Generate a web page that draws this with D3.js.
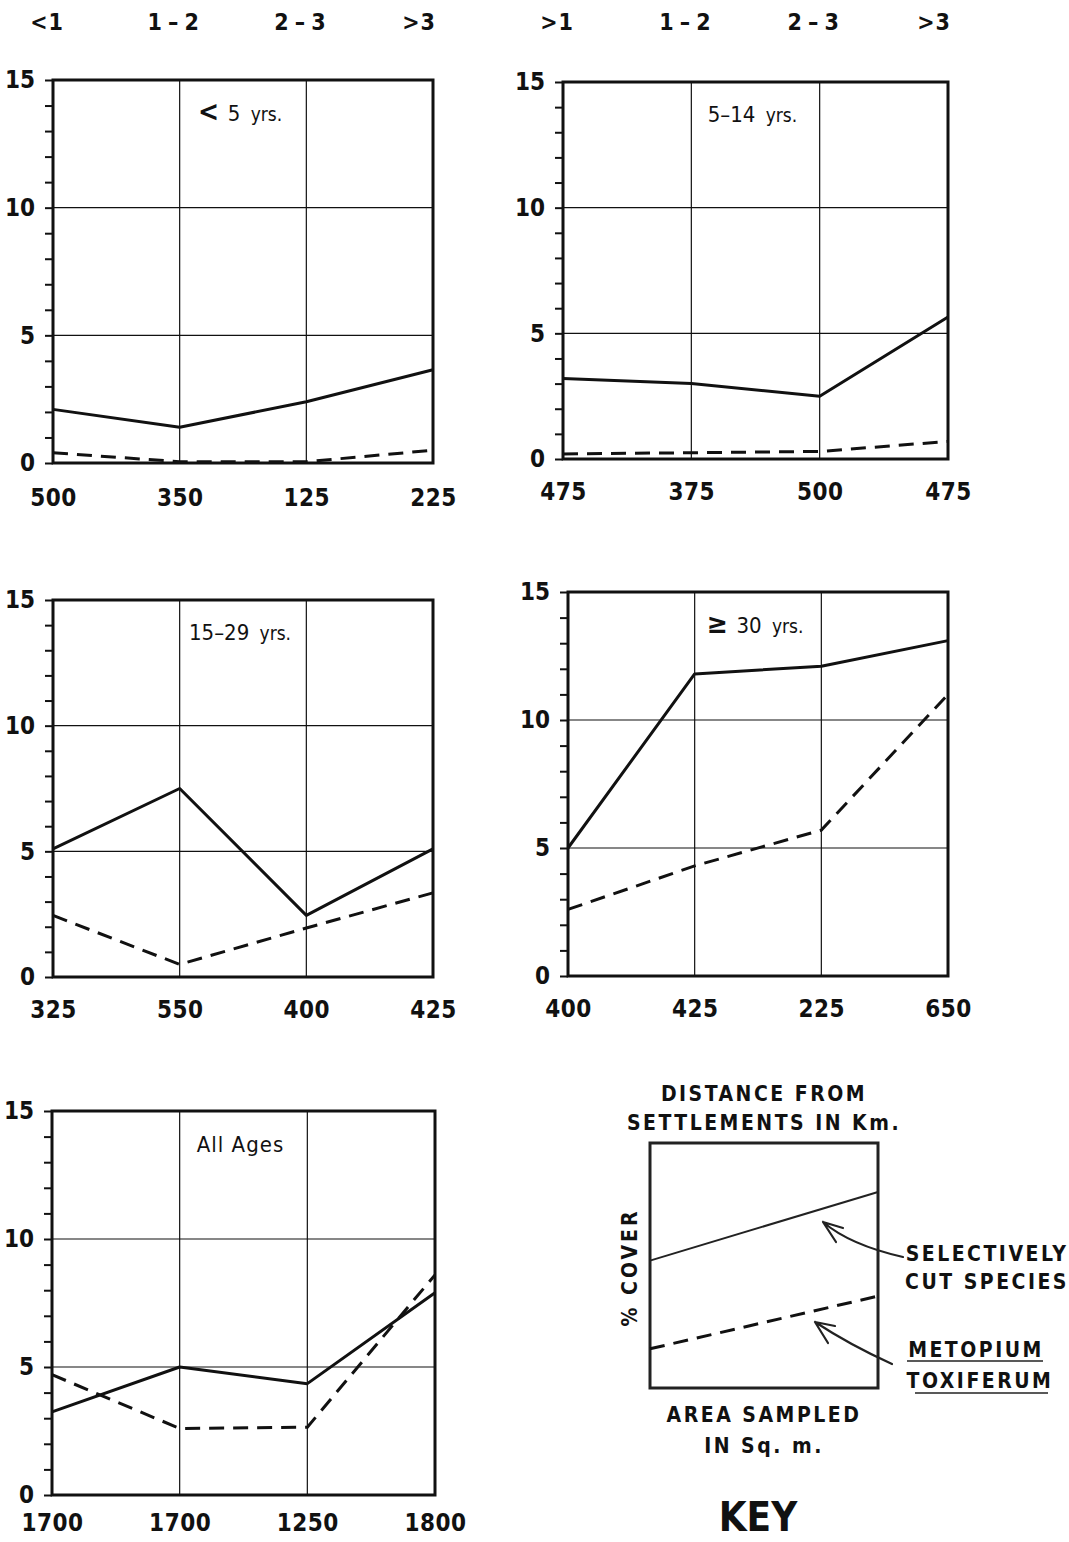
<!DOCTYPE html>
<html>
<head>
<meta charset="utf-8">
<script src="https://cdn.jsdelivr.net/npm/d3@7"></script>
<style>
  html, body { margin: 0; padding: 0; background: #fff; }
  svg { display: block; }
  text { font-family: "DejaVu Sans Condensed", "DejaVu Sans", sans-serif; font-stretch: condensed; fill: #111; }
</style>
</head>
<body>
<svg id="chart" width="1069" height="1542"></svg>
<script>
// ---------------- DATA ----------------
const distanceLabelsLeft  = ["<1", "1\u2009\u2013\u20092", "2\u2009\u2013\u20093", ">3"];
const distanceLabelsRight = [">1", "1\u2009\u2013\u20092", "2\u2009\u2013\u20093", ">3"];
const panelTitles = ["5 yrs.", "5\u201314 yrs.", "15\u201329 yrs.", "30 yrs.", "All Ages"];
const panelTitlePrefix = ["<", "", "", "\u2265", ""];
const areaSampled = [
  ["500", "350", "125", "225"],
  ["475", "375", "500", "475"],
  ["325", "550", "400", "425"],
  ["400", "425", "225", "650"],
  ["1700", "1700", "1250", "1800"]
];
const selectivelyCut = [
  [2.1, 1.4, 2.4, 3.65],
  [3.2, 3.0, 2.5, 5.65],
  [5.1, 7.5, 2.45, 5.1],
  [5.0, 11.8, 12.1, 13.1],
  [3.25, 5.0, 4.35, 7.9]
];
const metopium = [
  [0.4, 0.05, 0.05, 0.5],
  [0.2, 0.25, 0.3, 0.7],
  [2.45, 0.5, 1.95, 3.35],
  [2.6, 4.3, 5.7, 11.0],
  [4.7, 2.6, 2.65, 8.6]
];
const yTickLabels = [0, 5, 10, 15];
const yGrid = [5, 10];
const keySelective = [5.2, 8.0];
const keyMetopium = [1.6, 3.75];

// ---------------- LAYOUT ----------------
const layouts = [
  {l: 53,  r: 433, t: 80,   b: 463,  pad: 26},
  {l: 563, r: 948, t: 82,   b: 459,  pad: 24},
  {l: 53,  r: 433, t: 600,  b: 977,  pad: 24},
  {l: 568, r: 948, t: 592,  b: 976,  pad: 24},
  {l: 52,  r: 435, t: 1111, b: 1495, pad: 19}
];

const svg = d3.select("#chart");
const idx = [0, 1, 2, 3];

layouts.forEach((L, p) => {
  const g = svg.append("g");
  const x = d3.scalePoint().domain(idx).range([L.l, L.r]);
  const y = d3.scaleLinear().domain([0, 15]).range([L.b, L.t]);

  // grid lines
  g.selectAll(".hg").data(yGrid).enter().append("line")
    .attr("x1", L.l).attr("x2", L.r)
    .attr("y1", d => y(d)).attr("y2", d => y(d))
    .attr("stroke", "#111").attr("stroke-width", 1.2);
  g.selectAll(".vg").data([1, 2]).enter().append("line")
    .attr("x1", d => x(d)).attr("x2", d => x(d))
    .attr("y1", L.t).attr("y2", L.b)
    .attr("stroke", "#111").attr("stroke-width", 1.2);

  // frame
  g.append("rect").attr("x", L.l).attr("y", L.t)
    .attr("width", L.r - L.l).attr("height", L.b - L.t)
    .attr("fill", "none").attr("stroke", "#111").attr("stroke-width", 3);

  // y axis
  const ya = g.append("g").attr("transform", `translate(${L.l},0)`)
    .call(d3.axisLeft(y).tickValues(d3.range(0, 16)).tickSize(8).tickPadding(10)
      .tickFormat(d => yTickLabels.includes(d) ? d : ""));
  ya.select(".domain").remove();
  ya.selectAll(".tick line").attr("stroke", "#111").attr("stroke-width", 2);
  ya.selectAll(".tick text").attr("font-size", 24).attr("font-weight", "bold").attr("fill", "#111");

  // x axis (area sampled)
  const xa = g.append("g").attr("transform", `translate(0,${L.b})`)
    .call(d3.axisBottom(x).tickSize(0).tickPadding(L.pad).tickFormat(d => areaSampled[p][d]));
  xa.select(".domain").remove();
  xa.selectAll(".tick text").attr("font-size", 24).attr("font-weight", "bold")
    .attr("letter-spacing", "0.5px").attr("fill", "#111");

  // lines
  const line = d3.line().x((d, i) => x(i)).y(d => y(d));
  g.append("path").datum(selectivelyCut[p]).attr("d", line)
    .attr("fill", "none").attr("stroke", "#111").attr("stroke-width", 3)
    .attr("stroke-linejoin", "round");
  g.append("path").datum(metopium[p]).attr("d", line)
    .attr("fill", "none").attr("stroke", "#111").attr("stroke-width", 3)
    .attr("stroke-dasharray", "15,9");

  // title
  const tx = (x(1) + x(2)) / 2 - 3;
  const title = g.append("text").attr("x", tx).attr("y", y(13.4))
    .attr("text-anchor", "middle").attr("font-size", 22);
  if (panelTitlePrefix[p]) {
    title.append("tspan").attr("font-size", 28).attr("font-weight", "bold").text(panelTitlePrefix[p] + " ");
  }
  const parts = panelTitles[p].split(" ");
  if (parts[parts.length - 1] === "yrs.") {
    title.append("tspan").text(parts.slice(0, -1).join(" ") + " ");
    title.append("tspan").attr("font-size", 19).attr("dx", 4).text("yrs.");
  } else {
    title.append("tspan").attr("letter-spacing", "1px").text(panelTitles[p]);
  }

  // distance header for top row
  if (p < 2) {
    const labels = p === 0 ? distanceLabelsLeft : distanceLabelsRight;
    g.selectAll(".hdr").data(idx).enter().append("text")
      .attr("x", d => x(d) - (d === 3 ? 14 : 6))
      .attr("y", 30)
      .attr("text-anchor", "middle")
      .attr("font-size", 23).attr("font-weight", "bold")
      .attr("letter-spacing", "1px")
      .text(d => labels[d]);
  }
});

// ---------------- KEY ----------------
const K = {l: 650, r: 878, t: 1143, b: 1388};
const kg = svg.append("g");
const kx = d3.scaleLinear().domain([0, 1]).range([K.l, K.r]);
const ky = d3.scaleLinear().domain([0, 10]).range([K.b, K.t]);
kg.append("rect").attr("x", K.l).attr("y", K.t).attr("width", K.r - K.l).attr("height", K.b - K.t)
  .attr("fill", "none").attr("stroke", "#222").attr("stroke-width", 3);
const kline = d3.line().x((d, i) => kx(i)).y(d => ky(d));
kg.append("path").datum(keySelective).attr("d", kline)
  .attr("fill", "none").attr("stroke", "#222").attr("stroke-width", 2);
kg.append("path").datum(keyMetopium).attr("d", kline)
  .attr("fill", "none").attr("stroke", "#111").attr("stroke-width", 3).attr("stroke-dasharray", "15,9");

const ktext = (txt, xx, yy, size, opts = {}) => kg.append("text")
  .attr("x", xx).attr("y", yy).attr("font-size", size)
  .attr("text-anchor", opts.anchor || "middle")
  .attr("font-weight", opts.weight || "bold")
  .attr("letter-spacing", opts.ls || "2.5px")
  .attr("fill", "#222")
  .text(txt);

const cx = (K.l + K.r) / 2;
ktext("DISTANCE FROM", cx, 1101, 21);
ktext("SETTLEMENTS  IN  Km.", cx, 1130, 21);
ktext("AREA  SAMPLED", cx, 1422, 21);
ktext("IN  Sq.  m.", cx, 1453, 21);
kg.append("text").attr("transform", `translate(637,${(K.t + K.b) / 2 + 2}) rotate(-90)`)
  .attr("text-anchor", "middle").attr("font-size", 21).attr("font-weight", "bold")
  .attr("letter-spacing", "3px").attr("fill", "#222").text("% COVER");
ktext("SELECTIVELY", 987, 1261, 21);
ktext("CUT  SPECIES", 987, 1289, 21);
ktext("METOPIUM", 976, 1357, 21);
ktext("TOXIFERUM", 980, 1388, 21);
kg.selectAll(".ul").data([[907, 1043, 1361], [915, 1048, 1393]]).enter().append("line")
  .attr("x1", d => d[0]).attr("x2", d => d[1]).attr("y1", d => d[2]).attr("y2", d => d[2])
  .attr("stroke", "#222").attr("stroke-width", 1.5);
kg.append("text").attr("x", cx - 6).attr("y", 1531).attr("text-anchor", "middle")
  .attr("font-size", 40).attr("font-weight", "bold").attr("fill", "#111").text("KEY");

// arrows
function arrow(x0, y0, cxp, cyp, x1, y1, a1, a2) {
  const p = d3.path();
  p.moveTo(x0, y0); p.quadraticCurveTo(cxp, cyp, x1, y1);
  p.moveTo(x1, y1); p.lineTo(a1[0], a1[1]);
  p.moveTo(x1, y1); p.lineTo(a2[0], a2[1]);
  kg.append("path").attr("d", p.toString()).attr("fill", "none")
    .attr("stroke", "#222").attr("stroke-width", 2.2).attr("stroke-linecap", "round");
}
arrow(903, 1257, 850, 1245, 823, 1222, [843, 1228], [836, 1242]);
arrow(892, 1364, 850, 1345, 815, 1322, [835, 1326], [828, 1343]);
</script>
</body>
</html>
